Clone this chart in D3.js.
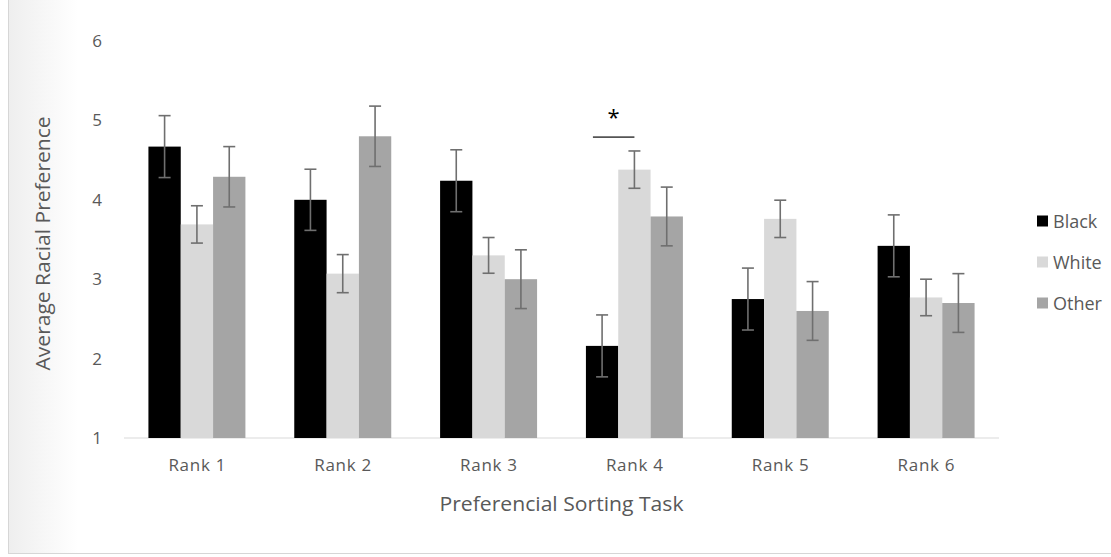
<!DOCTYPE html>
<html>
<head>
<meta charset="utf-8">
<script src="https://cdn.jsdelivr.net/npm/d3@7"></script>
<style>
  html, body { margin: 0; padding: 0; background: #fff; }
  svg { display: block; }
  text { font-family: "Open Sans", "Noto Sans", sans-serif; }
</style>
</head>
<body>
<svg id="chart" width="1111" height="557"></svg>
<script>
// Mean racial preference by sorting rank, with standard-error bars
const categories = ["Rank 1", "Rank 2", "Rank 3", "Rank 4", "Rank 5", "Rank 6"];
const seriesNames = ["Black", "White", "Other"];
const blackValues = [4.67, 4.00, 4.24, 2.16, 2.75, 3.42];
const whiteValues = [3.69, 3.07, 3.30, 4.38, 3.76, 2.77];
const otherValues = [4.29, 4.80, 3.00, 3.79, 2.60, 2.70];
const blackErrors = [0.39, 0.385, 0.39, 0.39, 0.39, 0.39];
const whiteErrors = [0.235, 0.24, 0.225, 0.235, 0.235, 0.23];
const otherErrors = [0.38, 0.38, 0.37, 0.37, 0.37, 0.37];
const yTicks = [1, 2, 3, 4, 5, 6];
const seriesColors = ["#000000", "#d9d9d9", "#a5a5a5"];
// significance marker between Black and White in Rank 4
const sigCategory = "Rank 4";
const sigLevel = 4.79;
const sigLabel = "*";

const seriesValues = [blackValues, whiteValues, otherValues];
const seriesErrors = [blackErrors, whiteErrors, otherErrors];

const svg = d3.select("#chart");
const W = 1111, H = 557;

// page frame: shaded left margin and thin border lines
const defs = svg.append("defs");
const grad = defs.append("linearGradient").attr("id", "leftShade")
  .attr("x1", "0%").attr("x2", "100%");
grad.append("stop").attr("offset", "0%").attr("stop-color", "#eeeeee");
grad.append("stop").attr("offset", "100%").attr("stop-color", "#ffffff");
svg.append("rect").attr("x", 8).attr("y", 0).attr("width", 70).attr("height", 553)
  .attr("fill", "url(#leftShade)");
svg.append("line").attr("x1", 8.5).attr("x2", 8.5).attr("y1", 0).attr("y2", 554)
  .attr("stroke", "#d6d6d6").attr("stroke-width", 1);
svg.append("line").attr("x1", 8).attr("x2", W).attr("y1", 553.5).attr("y2", 553.5)
  .attr("stroke", "#d6d6d6").attr("stroke-width", 1);

const margin = { left: 124, right: 112, top: 41, bottom: 119 };
const plotW = W - margin.left - margin.right;
const plotH = H - margin.top - margin.bottom;

const x0 = d3.scaleBand().domain(categories).range([0, plotW])
  .paddingInner(0.335).paddingOuter(0.1675);
const x1 = d3.scaleBand().domain(seriesNames).range([0, x0.bandwidth()]);
const y = d3.scaleLinear().domain([1, 6]).range([plotH, 0]);

const g = svg.append("g").attr("transform", `translate(${margin.left},${margin.top})`);

// baseline
g.append("line").attr("x1", 0).attr("x2", plotW).attr("y1", y(1)).attr("y2", y(1))
  .attr("stroke", "#d9d9d9").attr("stroke-width", 1.2);

// y axis labels (no axis line)
const yAxis = d3.axisLeft(y).tickValues(yTicks).tickSize(0).tickPadding(0).tickFormat(d3.format("d"));
const yg = g.append("g").attr("transform", "translate(-27,0)").call(yAxis);
yg.select(".domain").remove();
yg.selectAll("text").attr("fill", "#595959").attr("font-size", 17).attr("text-anchor", "middle");

// x axis labels
const xAxis = d3.axisBottom(x0).tickSize(0).tickPadding(0);
const xg = g.append("g").attr("transform", `translate(0,${y(1) + 21})`).call(xAxis);
xg.select(".domain").remove();
xg.selectAll("text").attr("fill", "#595959").attr("font-size", 17)
  .attr("textLength", 57).attr("lengthAdjust", "spacing");

// bars
const rows = categories.map((c, i) => ({
  cat: c,
  items: seriesNames.map((s, k) => ({ s, k, v: seriesValues[k][i], e: seriesErrors[k][i] }))
}));

const groups = g.selectAll(".grp").data(rows).join("g")
  .attr("class", "grp").attr("transform", d => `translate(${x0(d.cat)},0)`);

groups.selectAll("rect").data(d => d.items).join("rect")
  .attr("x", d => x1(d.s)).attr("width", x1.bandwidth())
  .attr("y", d => y(d.v)).attr("height", d => y(1) - y(d.v))
  .attr("fill", d => seriesColors[d.k]);

// error bars
const capHalf = 6;
const eb = groups.selectAll(".err").data(d => d.items).join("g").attr("class", "err")
  .attr("stroke", "#6f6f6f").attr("stroke-width", 1.6);
eb.append("line")
  .attr("x1", d => x1(d.s) + x1.bandwidth() / 2).attr("x2", d => x1(d.s) + x1.bandwidth() / 2)
  .attr("y1", d => y(d.v + d.e)).attr("y2", d => y(d.v - d.e));
eb.append("line")
  .attr("x1", d => x1(d.s) + x1.bandwidth() / 2 - capHalf).attr("x2", d => x1(d.s) + x1.bandwidth() / 2 + capHalf)
  .attr("y1", d => y(d.v + d.e)).attr("y2", d => y(d.v + d.e));
eb.append("line")
  .attr("x1", d => x1(d.s) + x1.bandwidth() / 2 - capHalf).attr("x2", d => x1(d.s) + x1.bandwidth() / 2 + capHalf)
  .attr("y1", d => y(d.v - d.e)).attr("y2", d => y(d.v - d.e));

// significance bracket
const sx0 = x0(sigCategory) + x1("Black") + 7;
const sx1 = x0(sigCategory) + x1("White") + x1.bandwidth() / 2;
g.append("line").attr("x1", sx0).attr("x2", sx1).attr("y1", y(sigLevel)).attr("y2", y(sigLevel))
  .attr("stroke", "#555555").attr("stroke-width", 1.8);
g.append("text").attr("x", (sx0 + sx1) / 2).attr("y", y(sigLevel) - 12)
  .attr("text-anchor", "middle").attr("font-size", 22).attr("fill", "#000")
  .text(sigLabel);

// axis titles
g.append("text").attr("x", plotW / 2).attr("y", y(1) + 73)
  .attr("text-anchor", "middle").attr("font-size", 20).attr("fill", "#595959")
  .attr("textLength", 244).attr("lengthAdjust", "spacingAndGlyphs")
  .text("Preferencial Sorting Task");
g.append("text")
  .attr("transform", `translate(${42 - margin.left},${y(3.45)}) rotate(-90)`)
  .attr("text-anchor", "middle").attr("dominant-baseline", "central")
  .attr("font-size", 20).attr("fill", "#595959")
  .attr("textLength", 254).attr("lengthAdjust", "spacingAndGlyphs")
  .text("Average Racial Preference");

// legend
const legend = svg.append("g").attr("transform", `translate(1037,0)`);
const legendY = [221, 262, 303];
seriesNames.forEach((s, k) => {
  legend.append("rect").attr("x", 0).attr("y", legendY[k] - 5.5).attr("width", 11).attr("height", 11)
    .attr("fill", seriesColors[k]);
  legend.append("text").attr("x", 16).attr("y", legendY[k]).attr("dominant-baseline", "central")
    .attr("font-size", 18).attr("fill", "#595959").text(s);
});
</script>
</body>
</html>
